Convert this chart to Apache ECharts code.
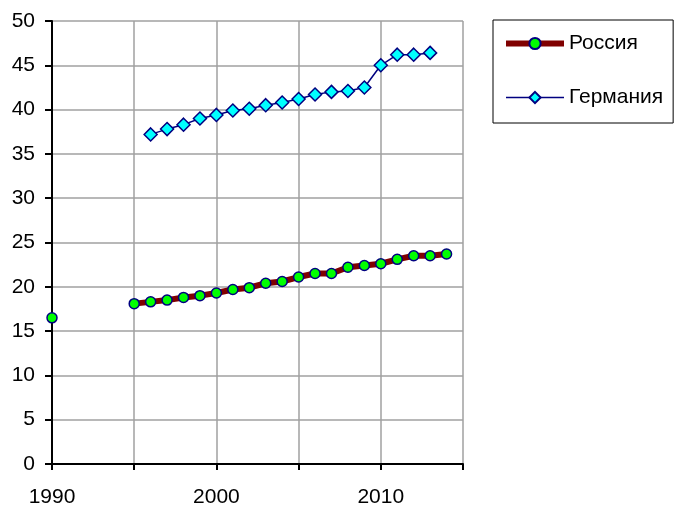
<!DOCTYPE html>
<html>
<head>
<meta charset="utf-8">
<script src="https://cdn.jsdelivr.net/npm/echarts@6/dist/echarts.min.js"></script>
<style>
  html, body { margin: 0; padding: 0; background: #fff; }
  #chart { width: 679px; height: 511px; }
</style>
</head>
<body>
<div id="chart"></div>
<script>
// Years and values for each country ('-' marks a missing year)
const russiaYears = [1990, 1991, 1992, 1993, 1994, 1995, 1996, 1997, 1998, 1999, 2000, 2001, 2002, 2003, 2004, 2005, 2006, 2007, 2008, 2009, 2010, 2011, 2012, 2013, 2014];
const russiaValues = [16.5, '-', '-', '-', '-', 18.1, 18.3, 18.5, 18.8, 19.0, 19.3, 19.7, 19.9, 20.4, 20.6, 21.1, 21.5, 21.5, 22.2, 22.4, 22.6, 23.1, 23.5, 23.5, 23.7];
const germanyYears = [1996, 1997, 1998, 1999, 2000, 2001, 2002, 2003, 2004, 2005, 2006, 2007, 2008, 2009, 2010, 2011, 2012, 2013];
const germanyValues = [37.2, 37.8, 38.3, 39.0, 39.4, 39.9, 40.1, 40.5, 40.8, 41.2, 41.7, 42.0, 42.1, 42.5, 45.0, 46.2, 46.2, 46.4];
const xLabeled = [1990, 2000, 2010];

const pairs = (xs, ys) => xs.map((x, i) => [x, ys[i]]);
const FONT = '"Liberation Sans", Arial, sans-serif';
const FS = 21;

const chart = echarts.init(document.getElementById('chart'), null, { renderer: 'canvas' });
chart.setOption({
  animation: false,
  backgroundColor: '#ffffff',
  textStyle: { fontFamily: FONT },
  grid: { left: 52, right: 216, top: 21, bottom: 47, containLabel: false },
  legend: {
    orient: 'vertical',
    left: 493,
    top: 20,
    padding: [13, 10, 15, 10],
    itemGap: 33,
    itemWidth: 58,
    itemHeight: 14,
    borderColor: '#000000',
    borderWidth: 1,
    textStyle: { fontFamily: FONT, fontSize: FS, color: '#000000', lineHeight: 21 },
    data: [
      { name: 'Россия', lineStyle: { width: 6, color: '#800000' } },
      { name: 'Германия', lineStyle: { width: 1.5, color: '#000080' } }
    ]
  },
  xAxis: {
    type: 'value',
    min: 1990,
    max: 2015,
    interval: 5,
    axisLine: { onZero: false, lineStyle: { color: '#000000', width: 2 } },
    axisTick: { show: true, inside: false, length: 6, lineStyle: { color: '#000000', width: 2 } },
    axisLabel: {
      margin: 23,
      fontFamily: FONT,
      fontSize: FS,
      color: '#000000',
      formatter: v => (xLabeled.includes(v) ? String(v) : '')
    },
    splitLine: { show: true, lineStyle: { color: '#a0a0a0', width: 1.5 } }
  },
  yAxis: {
    type: 'value',
    min: 0,
    max: 50,
    interval: 5,
    axisLine: { show: true, lineStyle: { color: '#000000', width: 2 } },
    axisTick: { show: true, inside: false, length: 7, lineStyle: { color: '#000000', width: 2 } },
    axisLabel: { margin: 17, fontFamily: FONT, fontSize: FS, color: '#000000' },
    splitLine: { show: true, lineStyle: { color: '#a0a0a0', width: 1.5 } }
  },
  series: [
    {
      name: 'Россия',
      type: 'line',
      data: pairs(russiaYears, russiaValues),
      connectNulls: false,
      clip: false,
      symbol: 'circle',
      symbolSize: 10,
      lineStyle: { color: '#800000', width: 6 },
      itemStyle: { color: '#00ff00', borderColor: '#000080', borderWidth: 1.5 },
      z: 3
    },
    {
      name: 'Германия',
      type: 'line',
      data: pairs(germanyYears, germanyValues),
      clip: false,
      symbol: 'diamond',
      symbolSize: 13,
      lineStyle: { color: '#000080', width: 1.5 },
      itemStyle: { color: '#00ffff', borderColor: '#000080', borderWidth: 1.5 },
      z: 3
    }
  ]
});
</script>
</body>
</html>
